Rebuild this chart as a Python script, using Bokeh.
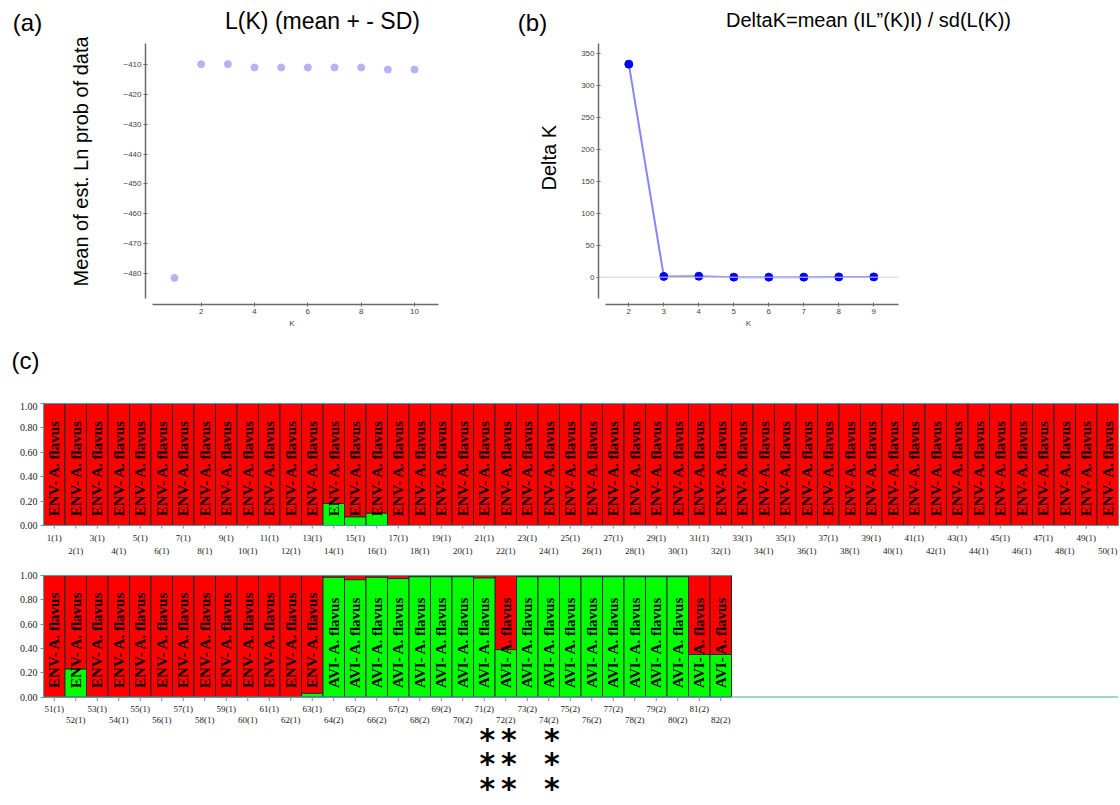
import math
from bokeh.plotting import figure
from bokeh.layouts import column, row
from bokeh.models import (Span, FixedTicker, LinearAxis, Range1d, NumeralTickFormatter, Title)
from bokeh.embed import file_html
from bokeh.resources import INLINE
from bokeh.core.properties import value

# ---------------- data ----------------
# (a) L(K) (mean +- SD)
a_k = [1, 2, 3, 4, 5, 6, 7, 8, 9, 10]
a_mean_lnp = [-481.5, -409.9, -409.9, -411.0, -411.0, -411.0, -411.0, -411.0, -411.7, -411.7]
a_yticks = [-480, -470, -460, -450, -440, -430, -420, -410]
a_xticks = [2, 4, 6, 8, 10]

# (b) Delta K
b_k = [2, 3, 4, 5, 6, 7, 8, 9]
b_delta_k = [333.9, 1.2, 1.5, 0.1, 0.1, 0.1, 0.4, 0.4]
b_yticks = [0, 50, 100, 150, 200, 250, 300, 350]
b_xticks = [2, 3, 4, 5, 6, 7, 8, 9]

# (c) STRUCTURE bar plot (K = 2), green = share of the second cluster
row1_ids = list(range(1, 51))
row1_pop = [1] * 50
row1_green = [0.0] * 13 + [0.18, 0.07, 0.10] + [0.0] * 34
row2_ids = list(range(51, 83))
row2_pop = [1] * 13 + [2] * 19
row2_green = ([0.0, 0.23] + [0.0] * 10 + [0.03,
              0.985, 0.965, 0.985, 0.975, 0.99, 0.99, 0.99, 0.98, 0.39,
              0.99, 0.99, 0.99, 0.99, 0.99, 0.99, 0.99, 0.99, 0.35, 0.35])
pop_labels = {1: "ENV- A. flavus", 2: "AVI- A. flavus"}
c_yticks = [0.0, 0.2, 0.4, 0.6, 0.8, 1.0]
star_ids = [71, 72, 74]
star_rows = 3

# panel headings
title_a = "L(K) (mean + - SD)"
title_b = "DeltaK=mean (IL\u201d(K)I) / sd(L(K))"
ylabel_a = "Mean of est. Ln prob of data"
ylabel_b = "Delta K"

# ---------------- style ----------------
SANS = "Liberation Sans"
SERIF = "Liberation Serif"
AXC = "#6a6a6a"
TEAL = "#4aa3ab"
PURPLE = "#b070c8"
RED = "#ff0000"
GREEN = "#00ff00"
EDGE = "#2a2a2a"
SLOTS = 50
PX_UNIT = 121.0
TICK = 4 / PX_UNIT
TOPPAD = 1 / PX_UNIT
TEXT_Y = 0.075
W = 1120
HEADER_H = 37
LABEL_PX = (12, 23)          # odd / even sample-label rows, px below the baseline
STAR_PX, STAR_GAP, STAR_SIZE = 40, 24.5, 30


def base_fig(**kw):
    p = figure(output_backend="svg", toolbar_location=None, title=None, **kw)
    p.xgrid.visible = False
    p.ygrid.visible = False
    p.outline_line_color = None
    p.background_fill_color = "white"
    p.border_fill_color = "white"
    return p


def text_strip(height, items):
    """A figure with no axes used only to carry free texts (pixel coordinates)."""
    p = figure(output_backend="svg", toolbar_location=None, title=None, width=W, height=height,
               x_range=Range1d(0, W), y_range=Range1d(height, 0), x_axis_type=None,
               y_axis_type=None, min_border=0, frame_align=False)
    p.outline_line_color = None
    p.background_fill_color = "white"
    p.border_fill_color = "white"
    for xs, ys, texts, size in items:
        p.text(x=xs, y=ys, text=texts, text_font=value(SANS), text_font_size=size,
               text_align="center", text_baseline="middle", text_color="black")
    return p


def style_kplot(p, xticks, yticks):
    for ax in (p.xaxis[0], p.yaxis[0]):
        ax.axis_line_color = AXC
        ax.axis_line_width = 1.5
        ax.major_tick_line_color = AXC
        ax.major_tick_in = 2
        ax.major_tick_out = 2
        ax.minor_tick_line_color = None
        ax.major_label_text_font = SANS
        ax.major_label_text_font_size = "8px"
        ax.major_label_text_color = "#444444"
        ax.major_label_standoff = 2
    p.xaxis.ticker = FixedTicker(ticks=xticks)
    p.yaxis.ticker = FixedTicker(ticks=yticks)
    p.xaxis.axis_label = "K"
    p.xaxis.axis_label_text_font = SANS
    p.xaxis.axis_label_text_font_size = "8px"
    p.xaxis.axis_label_text_font_style = "normal"
    p.xaxis.axis_label_standoff = 2


def left_title(p, text, offset, standoff):
    p.add_layout(Title(text=text, align="left", offset=offset, standoff=standoff,
                       text_font=SANS, text_font_size="20px", text_font_style="normal",
                       text_color="black"), "left")


# ---------------- header strip ----------------
header = text_strip(HEADER_H, [
    ([27, 532], [22, 22], ["(a)", "(b)"], "24px"),
    ([322], [20], [title_a], "23px"),
    ([868], [19], [title_b], "20px"),
])

TOP_H = 340 - HEADER_H
TOP_B = 43 - HEADER_H

# ---------------- panel (a) ----------------
pa = base_fig(width=488, height=TOP_H, x_range=Range1d(-0.0875, 10.9),
              y_range=Range1d(-490.4, -402.97),
              min_border_left=145, min_border_right=50, min_border_top=TOP_B,
              min_border_bottom=36)
style_kplot(pa, a_xticks, a_yticks)
pa.xaxis.bounds = (0.175, 10.9)
pa.yaxis.bounds = (-488.4, -403.0)
pa.scatter(a_k, a_mean_lnp, size=7, fill_color="#b2b4f6", line_color="#b2b4f6")
left_title(pa, ylabel_a, 18, 57)

# ---------------- panel (b) ----------------
pb = base_fig(width=632, height=TOP_H, x_range=Range1d(1.134, 9.706),
              y_range=Range1d(-42.8, 366.3),
              min_border_left=110, min_border_right=222, min_border_top=TOP_B,
              min_border_bottom=36)
style_kplot(pb, b_xticks, b_yticks)
pb.xaxis.bounds = (1.334, 9.706)
pb.yaxis.bounds = (-33.4, 366.0)
pb.add_layout(Span(location=0, dimension="width", line_color="#d4d4d4", line_width=1))
pb.line(b_k, b_delta_k, line_color="#8585ff", line_width=2)
pb.scatter(b_k, b_delta_k, size=8, fill_color="#0000ff", line_color="#0000ff")
left_title(pb, ylabel_b, 114, 38)

# ---------------- "(c)" strip ----------------
cstrip = text_strip(62, [([25], [20], ["(c)"], "24px")])


# ---------------- panel (c) rows ----------------
def structure_row(ids, pops, greens, height, border_top, frame_h, glyph_labels=False):
    p = base_fig(width=W, height=height, x_range=Range1d(0.5, SLOTS + 0.5),
                 y_range=Range1d(1 + TOPPAD - (frame_h - 1) / PX_UNIT, 1 + TOPPAD),
                 min_border_left=43, min_border_right=2, min_border_top=border_top,
                 min_border_bottom=height - border_top - frame_h)
    first = ids[0]
    xs = [i - first + 1 for i in ids]
    n = len(xs)
    p.vbar(x=xs, width=1, bottom=greens, top=[1.0] * n, fill_color=RED,
           line_color=EDGE, line_width=1)
    gx = [x for x, g in zip(xs, greens) if g > 0]
    gg = [g for g in greens if g > 0]
    p.vbar(x=gx, width=1, bottom=0, top=gg, fill_color=GREEN, line_color=EDGE, line_width=1)
    p.text(x=xs, y=[TEXT_Y] * n, text=[pop_labels[q] for q in pops], angle=math.pi / 2,
           text_font=value(SERIF), text_font_style="bold", text_font_size="15px",
           text_align="left", text_baseline="middle", text_color="black")
    tcol = [PURPLE if g >= 0.05 else TEAL for g in greens]
    p.segment(x0=xs, y0=[0] * n, x1=xs, y1=[-TICK] * n, line_color=tcol, line_width=1)
    p.add_layout(Span(location=0, dimension="width", line_color=TEAL, line_width=1))
    p.segment(x0=[xs[0] - 0.5], y0=[1], x1=[xs[-1] + 0.5], y1=[1], line_color=TEAL, line_width=1)

    names = [f"{i}({q})" for i, q in zip(ids, pops)]
    if glyph_labels:
        p.xaxis.visible = False
        ly = [-LABEL_PX[(x + 1) % 2] / PX_UNIT for x in xs]
        p.text(x=xs, y=ly, text=names, text_font=value(SERIF), text_font_size="9px",
               text_align="center", text_baseline="middle", text_color="#222222")
    else:
        labels = dict(zip(xs, names))
        ax1 = p.xaxis[0]
        ax1.ticker = FixedTicker(ticks=[x for x in xs if x % 2 == 1])
        ax1.major_label_overrides = labels
        ax2 = LinearAxis(ticker=FixedTicker(ticks=[x for x in xs if x % 2 == 0]),
                         major_label_overrides=labels)
        p.add_layout(ax2, "below")
        for ax, st in ((ax1, 4), (ax2, 0)):
            ax.axis_line_color = None
            ax.major_tick_line_color = None
            ax.minor_tick_line_color = None
            ax.major_tick_in = 0
            ax.major_tick_out = 0
            ax.major_label_standoff = st
            ax.major_label_text_font = SERIF
            ax.major_label_text_font_size = "9px"
            ax.major_label_text_color = "#222222"

    ya = p.yaxis[0]
    ya.ticker = FixedTicker(ticks=c_yticks)
    ya.formatter = NumeralTickFormatter(format="0.00")
    ya.bounds = (0, 1)
    ya.axis_line_color = TEAL
    ya.major_tick_line_color = TEAL
    ya.minor_tick_line_color = None
    ya.major_tick_in = 0
    ya.major_tick_out = 3
    ya.major_label_standoff = 3
    ya.major_label_text_font = SERIF
    ya.major_label_text_font_size = "10px"
    ya.major_label_text_color = "#222222"
    return p, xs


pc1, _ = structure_row(row1_ids, row1_pop, row1_green, 158, 0, 126)
pc2, xs2 = structure_row(row2_ids, row2_pop, row2_green, 245, 14, 231, glyph_labels=True)

# ---------------- stars under selected isolates ----------------
star_x, star_y = [], []
for i in star_ids:
    for r in range(star_rows):
        star_x.append(i - row2_ids[0] + 1)
        star_y.append(-(STAR_PX + STAR_GAP * r + 0.07 * STAR_SIZE) / PX_UNIT)
pc2.text(x=star_x, y=star_y, text=["*"] * len(star_x), text_font=value("DejaVu Sans"),
         text_font_style="bold", text_font_size=f"{STAR_SIZE}px", text_align="center",
         text_baseline="alphabetic", text_color="black", x_offset=3)

layout = column(header, row(pa, pb), cstrip, pc1, pc2)
with open("out.html", "w", encoding="utf-8") as f:
    f.write(file_html(layout, INLINE))
